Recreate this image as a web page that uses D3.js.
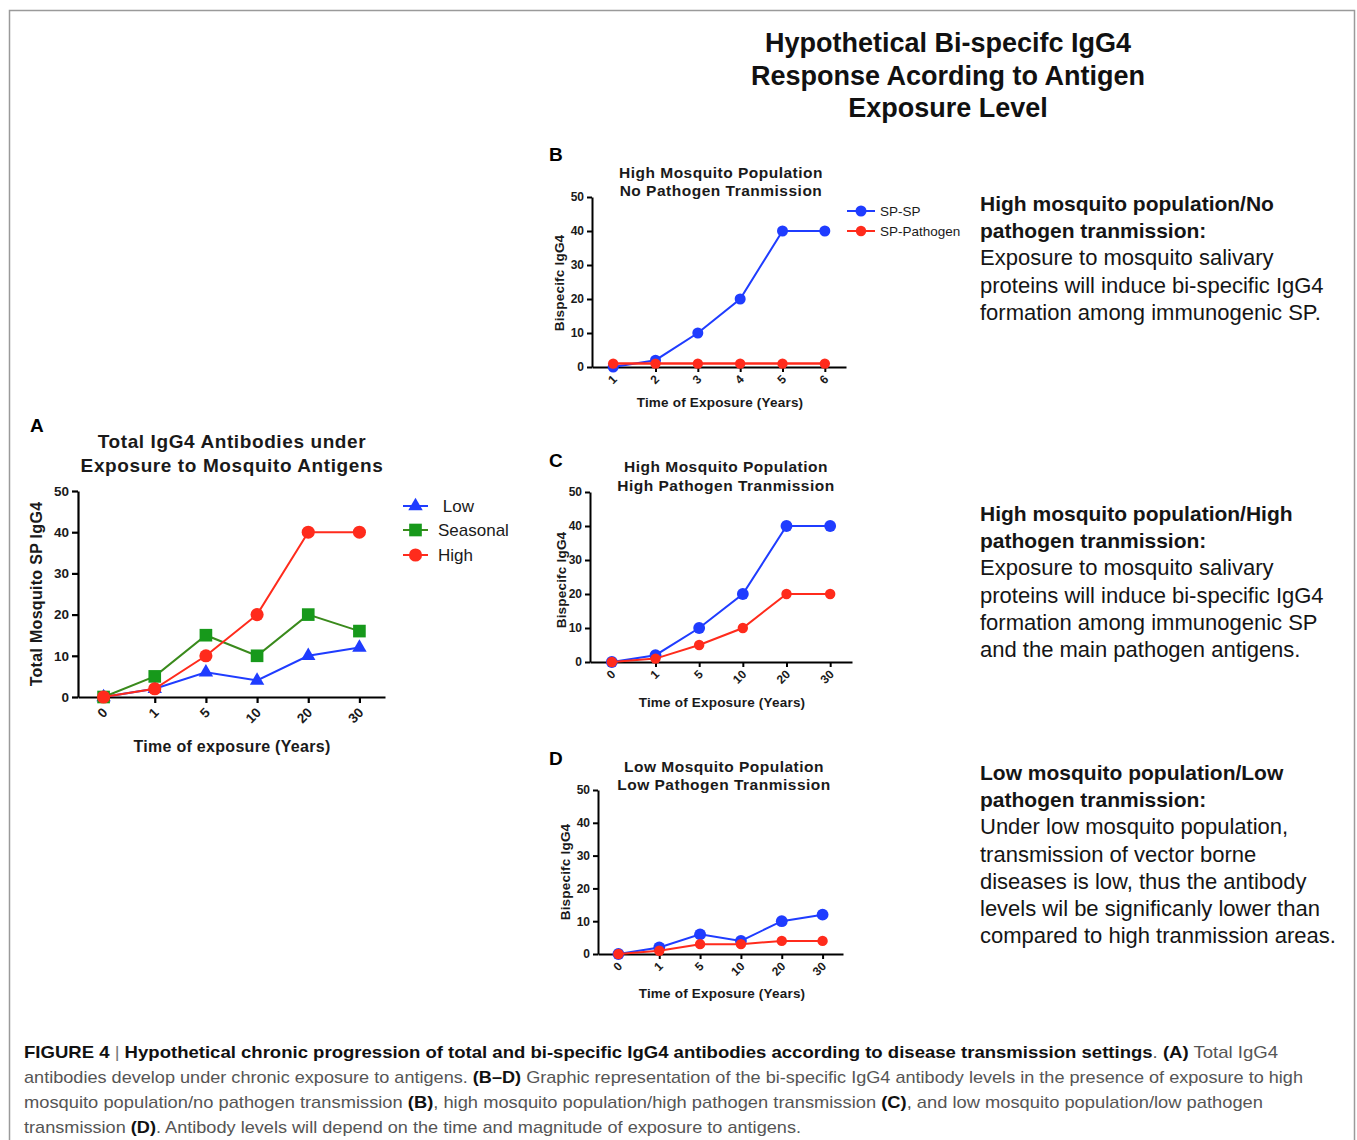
<!DOCTYPE html>
<html><head><meta charset="utf-8">
<script src="https://cdn.jsdelivr.net/npm/d3@7"></script>
<style>
body{margin:0;background:#fff}
svg{display:block}
text{font-family:"Liberation Sans",Arial,Helvetica,sans-serif}
</style>
</head><body>
<svg id="fig" width="1357" height="1140"></svg>
<script>
// ---------- data ----------
const timeCategories = ["0","1","5","10","20","30"];
const yearCategories = ["1","2","3","4","5","6"];
const yTickValues = [0,10,20,30,40,50];

const panelALow = [0,2,6,4,10,12];
const panelASeasonal = [0,5,15,10,20,16];
const panelAHigh = [0,2,10,20,40,40];

const panelBSPSP = [0,2,10,20,40,40];
const panelBSPPathogen = [1,1,1,1,1,1];

const panelCSPSP = [0,2,10,20,40,40];
const panelCSPPathogen = [0,1,5,10,20,20];

const panelDSPSP = [0,2,6,4,10,12];
const panelDSPPathogen = [0,1,3,3,4,4];

const legendALabels = [" Low","Seasonal","High"];
const legendBLabels = ["SP-SP","SP-Pathogen"];

// ---------- styles ----------
const BLUE = "#1f3cff", RED = "#ff2b1c", GREEN_LINE = "#3a8a1c", GREEN_FILL = "#17991b";

const svg = d3.select("#fig");

// outer frame
svg.append("rect").attr("x",9.5).attr("y",10.5).attr("width",1345).attr("height",1160)
  .attr("fill","none").attr("stroke","#9a9a9a").attr("stroke-width",1.5);

function symbolPath(type,size){
  const t = type==="triangle"?d3.symbolTriangle:type==="square"?d3.symbolSquare:d3.symbolCircle;
  return d3.symbol().type(t).size(size)();
}

function drawPanel(cfg){
  const g = svg.append("g");
  const x = d3.scalePoint().domain(cfg.cats).range([cfg.left,cfg.right]).padding(0.5);
  const y = d3.scaleLinear().domain([0,50]).range([cfg.bottom,cfg.top]);

  const ya = g.append("g").attr("transform",`translate(${cfg.left},0)`)
    .call(d3.axisLeft(y).tickValues(yTickValues).tickSize(cfg.tick).tickSizeOuter(0).tickPadding(3));
  const xa = g.append("g").attr("transform",`translate(0,${cfg.bottom})`)
    .call(d3.axisBottom(x).tickSize(cfg.tick).tickSizeOuter(0));
  [ya,xa].forEach(a=>{
    a.select(".domain").attr("stroke","#000").attr("stroke-width",cfg.axisW);
    a.selectAll(".tick line").attr("stroke","#000").attr("stroke-width",cfg.axisW);
    a.selectAll(".tick text").attr("font-size",cfg.tickFont).attr("font-weight","bold")
      .attr("fill","#1a1a1a").attr("font-family","Liberation Sans, Arial, sans-serif");
  });
  xa.selectAll(".tick text").attr("x",null).attr("y",null).attr("dy","0.35em")
    .attr("text-anchor","end").attr("transform",`translate(${cfg.lx},${cfg.ly}) rotate(-45)`);

  const line = d3.line().x((d,i)=>x(cfg.cats[i])).y(d=>y(d));
  cfg.series.forEach(s=>{
    g.append("path").attr("d",line(s.values)).attr("fill","none")
      .attr("stroke",s.line).attr("stroke-width",s.lw||2);
    g.selectAll(null).data(s.values).enter().append("path")
      .attr("d",symbolPath(s.symbol,s.size))
      .attr("transform",(d,i)=>`translate(${x(cfg.cats[i])},${y(d)})`)
      .attr("fill",s.fill);
  });

  // titles
  cfg.title.forEach((t,i)=>{
    g.append("text").attr("x",cfg.titleX).attr("y",cfg.titleY[i]).attr("text-anchor","middle")
      .attr("font-size",cfg.titleFont).attr("font-weight","bold").attr("fill","#1a1a1a")
      .attr("letter-spacing",cfg.titleLS||0).text(t);
  });
  g.append("text").attr("x",cfg.letterX).attr("y",cfg.letterY).attr("font-size",19)
    .attr("font-weight","bold").attr("fill","#000").text(cfg.letter);
  g.append("text").attr("transform",`translate(${cfg.yTitleX},${cfg.yTitleY}) rotate(-90)`)
    .attr("text-anchor","middle").attr("font-size",cfg.axisFont).attr("font-weight","bold")
    .attr("fill","#1a1a1a").attr("letter-spacing",cfg.axisLS||0).text(cfg.yTitle);
  g.append("text").attr("x",cfg.xTitleX).attr("y",cfg.xTitleY).attr("text-anchor","middle")
    .attr("font-size",cfg.axisFont).attr("font-weight","bold").attr("fill","#1a1a1a")
    .attr("letter-spacing",cfg.axisLS||0).text(cfg.xTitle);

  if(cfg.legend){
    const L = cfg.legend;
    L.items.forEach((it,i)=>{
      const yy = L.rows[i];
      g.append("line").attr("x1",L.x1).attr("x2",L.x2).attr("y1",yy).attr("y2",yy)
        .attr("stroke",it.line).attr("stroke-width",2);
      g.append("path").attr("d",symbolPath(it.symbol,it.size))
        .attr("transform",`translate(${(L.x1+L.x2)/2},${yy})`).attr("fill",it.fill);
      g.append("text").attr("x",L.tx).attr("y",yy).attr("dy","0.35em")
        .attr("font-size",L.font).attr("fill","#1a1a1a").attr("xml:space","preserve")
        .style("white-space","pre").text(it.label);
    });
  }
}

// Panel A
const seriesA = [
  {values:panelALow, line:BLUE, fill:BLUE, symbol:"triangle", size:90},
  {values:panelASeasonal, line:GREEN_LINE, fill:GREEN_FILL, symbol:"square", size:160},
  {values:panelAHigh, line:RED, fill:RED, symbol:"circle", size:135}
];
drawPanel({
  cats:timeCategories, left:78, right:385, top:491, bottom:697, tick:6, axisW:2.2,
  tickFont:13.5, lx:1, ly:13, series:seriesA,
  title:["Total IgG4 Antibodies under","Exposure to Mosquito Antigens"], titleX:232, titleY:[448,472],
  titleFont:19, titleLS:0.6,
  letter:"A", letterX:30, letterY:432,
  yTitle:"Total Mosquito SP IgG4", yTitleX:42, yTitleY:594,
  xTitle:"Time of exposure (Years)", xTitleX:232, xTitleY:752, axisFont:16, axisLS:0.3,
  legend:{x1:403,x2:428,tx:438,rows:[506,530,555],font:17,
    items:legendALabels.map((l,i)=>Object.assign({label:l},seriesA[i]))}
});

// Panel B
const seriesB = [
  {values:panelBSPSP, line:BLUE, fill:BLUE, symbol:"circle", size:95},
  {values:panelBSPPathogen, line:RED, fill:RED, symbol:"circle", size:85, lw:2.5}
];
drawPanel({
  cats:yearCategories, left:592, right:846, top:197, bottom:367, tick:5, axisW:2,
  tickFont:12, lx:1, ly:10, series:seriesB,
  title:["High Mosquito Population","No Pathogen Tranmission"], titleX:721,
  titleY:[178,196], titleFont:15.5, titleLS:0.5,
  letter:"B", letterX:549, letterY:161,
  yTitle:"Bispecifc IgG4", yTitleX:564, yTitleY:283,
  xTitle:"Time of Exposure (Years)", xTitleX:720, xTitleY:407, axisFont:13.5, axisLS:0.2,
  legend:{x1:847,x2:875,tx:880,rows:[211,231],font:13.5,
    items:legendBLabels.map((l,i)=>Object.assign({label:l},seriesB[i]))}
});

// Panel C
drawPanel({
  cats:timeCategories, left:590, right:852, top:492, bottom:662, tick:5, axisW:2,
  tickFont:12, lx:1, ly:10,
  series:[
    {values:panelCSPSP, line:BLUE, fill:BLUE, symbol:"circle", size:110},
    {values:panelCSPPathogen, line:RED, fill:RED, symbol:"circle", size:85}
  ],
  title:["High Mosquito Population","High Pathogen Tranmission"], titleX:726, titleY:[472,491],
  titleFont:15.5, titleLS:0.5,
  letter:"C", letterX:549, letterY:467,
  yTitle:"Bispecifc IgG4", yTitleX:566, yTitleY:580,
  xTitle:"Time of Exposure (Years)", xTitleX:722, xTitleY:707, axisFont:13.5, axisLS:0.2
});

// Panel D
drawPanel({
  cats:timeCategories, left:598, right:843, top:790, bottom:954, tick:5, axisW:2,
  tickFont:12, lx:1, ly:10,
  series:[
    {values:panelDSPSP, line:BLUE, fill:BLUE, symbol:"circle", size:110},
    {values:panelDSPPathogen, line:RED, fill:RED, symbol:"circle", size:85}
  ],
  title:["Low Mosquito Population","Low Pathogen Tranmission"], titleX:724, titleY:[772,790],
  titleFont:15.5, titleLS:0.5,
  letter:"D", letterX:549, letterY:765,
  yTitle:"Bispecifc IgG4", yTitleX:570, yTitleY:872,
  xTitle:"Time of Exposure (Years)", xTitleX:722, xTitleY:998, axisFont:13.5, axisLS:0.2
});

// Main title
["Hypothetical Bi-specifc IgG4","Response Acording to Antigen","Exposure Level"].forEach((t,i)=>{
  svg.append("text").attr("x",948).attr("y",[52,85,117][i]).attr("text-anchor","middle")
    .attr("font-size",27).attr("font-weight","bold").attr("fill","#111").text(t);
});

// Right-hand descriptive blocks
const blocks = [
  {y:211, bold:["High mosquito population/No","pathogen tranmission:"],
   body:["Exposure to mosquito salivary","proteins will induce bi-specific IgG4","formation among immunogenic SP."]},
  {y:521, bold:["High mosquito population/High","pathogen tranmission:"],
   body:["Exposure to mosquito salivary","proteins will induce bi-specific IgG4","formation among immunogenic SP","and the main pathogen antigens."]},
  {y:780, bold:["Low mosquito population/Low","pathogen tranmission:"],
   body:["Under low mosquito population,","transmission of vector borne","diseases is low, thus the antibody","levels wil be significanly lower than","compared to high tranmission areas."]}
];
blocks.forEach(b=>{
  b.bold.concat(b.body).forEach((t,i)=>{
    const isBold = i<b.bold.length;
    svg.append("text").attr("x",980).attr("y",b.y+i*27.2)
      .attr("font-size",isBold?21:22).attr("font-weight",isBold?"bold":"normal")
      .attr("fill","#151515").text(t);
  });
});

// Caption
const captionLines = [
  {y:1058, w:1254, parts:[["FIGURE 4","b"],[" | ","g"],["Hypothetical chronic progression of total and bi-specific IgG4 antibodies according to disease transmission settings","b"],[". ","r"],["(A)","b"],[" Total IgG4","r"]]},
  {y:1083, w:1279, parts:[["antibodies develop under chronic exposure to antigens. ","r"],["(B–D)","b"],[" Graphic representation of the bi-specific IgG4 antibody levels in the presence of exposure to high","r"]]},
  {y:1108, w:1239, parts:[["mosquito population/no pathogen transmission ","r"],["(B)","b"],[", high mosquito population/high pathogen transmission ","r"],["(C)","b"],[", and low mosquito population/low pathogen","r"]]},
  {y:1133, w:777, parts:[["transmission ","r"],["(D)","b"],[". Antibody levels will depend on the time and magnitude of exposure to antigens.","r"]]}
];
captionLines.forEach(l=>{
  const t = svg.append("text").attr("x",24).attr("y",l.y).attr("font-size",17)
    .attr("xml:space","preserve").style("white-space","pre");
  l.parts.forEach(p=>{
    t.append("tspan").text(p[0])
      .attr("font-weight",p[1]==="b"?"bold":"normal")
      .attr("fill",p[1]==="b"?"#111":p[1]==="g"?"#777":"#555");
  });
  t.attr("textLength",l.w).attr("lengthAdjust","spacingAndGlyphs");
});
</script>
</body></html>
